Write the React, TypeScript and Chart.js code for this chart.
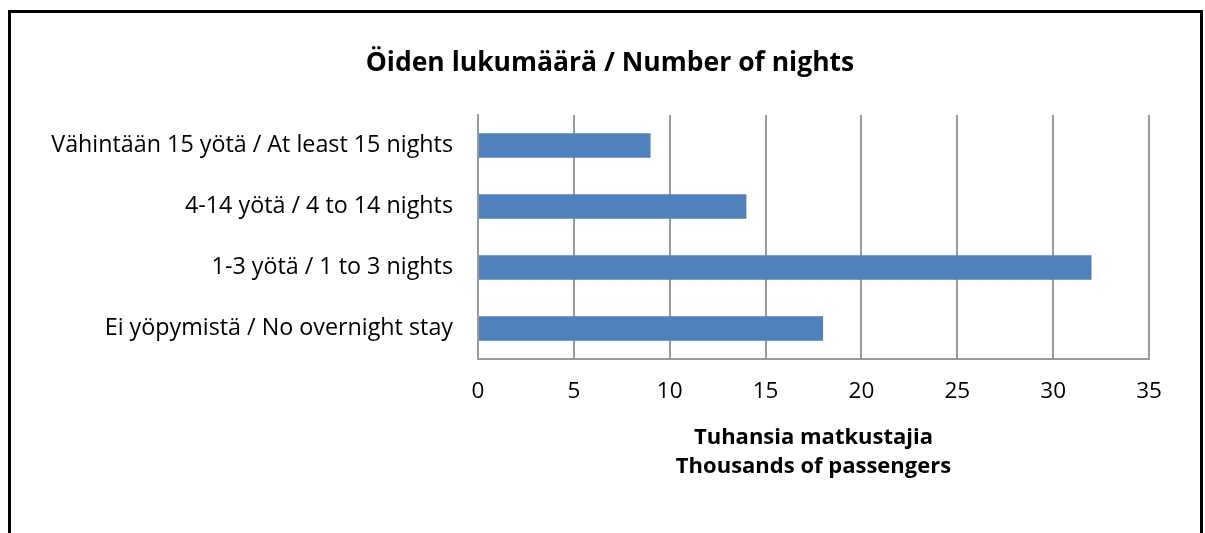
import React, { useEffect, useRef } from "react";
import { Chart, registerables } from "chart.js";

Chart.register(...registerables);

const titleText = "Öiden lukumäärä / Number of nights";
const categories = [
  "Vähintään 15 yötä / At least 15 nights",
  "4-14 yötä / 4 to 14 nights",
  "1-3 yötä / 1 to 3 nights",
  "Ei yöpymistä / No overnight stay",
];
const passengers = [9, 14, 32, 18];
const axisTitle = ["Tuhansia matkustajia", "Thousands of passengers"];
const xMin = 0;
const xMax = 35;
const xStep = 5;

const FONT = "'Open Sans', 'Noto Sans', sans-serif";

export default function App() {
  const ref = useRef<HTMLCanvasElement | null>(null);

  useEffect(() => {
    if (!ref.current) return;
    const titlePlugin = {
      id: "customTitle",
      afterDraw(chart: any) {
        const ctx = chart.ctx;
        ctx.save();
        ctx.font = `bold 26.5px ${FONT}`;
        ctx.fillStyle = "#000";
        ctx.textAlign = "center";
        ctx.textBaseline = "middle";
        ctx.fillText(titleText, 610, 63);
        ctx.restore();
      },
    };
    const chart = new Chart(ref.current, {
      type: "bar",
      data: {
        labels: categories,
        datasets: [
          {
            data: passengers,
            backgroundColor: "#4f81bd",
            borderWidth: 0,
            barPercentage: 0.4,
            categoryPercentage: 1,
          },
        ],
      },
      options: {
        indexAxis: "y",
        animation: false,
        responsive: false,
        layout: { padding: { top: 115, right: 56, bottom: 0, left: 0 } },
        plugins: {
          legend: { display: false },
          tooltip: { enabled: false },
          title: { display: false },
        },
        scales: {
          x: {
            min: xMin,
            max: xMax,
            afterFit: (s: any) => {
              s.height = 174;
            },
            ticks: {
              stepSize: xStep,
              color: "#000",
              padding: 19,
              font: { family: FONT, size: 22.5 },
            },
            grid: {
              color: "#9a9a9a",
              lineWidth: 2,
              drawTicks: false,
            },
            border: { color: "#9a9a9a", width: 2 },
            title: {
              display: true,
              text: axisTitle,
              color: "#000",
              font: { family: FONT, size: 22, weight: "bold", lineHeight: 1.32 },
              padding: { top: 0, bottom: 52 },
            },
          },
          y: {
            afterFit: (s: any) => {
              s.width = 478;
            },
            ticks: {
              color: "#000",
              padding: 25,
              font: { family: FONT, size: 23.3 },
            },
            grid: { display: false, drawTicks: false },
            border: { color: "#9a9a9a", width: 2 },
          },
        },
      },
      plugins: [titlePlugin],
    });
    return () => chart.destroy();
  }, []);

  return (
    <div style={{ position: "absolute", left: 0, top: 0, width: 1205, height: 533, overflow: "hidden", background: "#fff" }}>
      <canvas ref={ref} width={1205} height={533} style={{ position: "absolute", left: 0, top: 0 }} />
      <div
        style={{
          position: "absolute",
          left: 8,
          top: 10,
          width: 1195,
          height: 530,
          boxSizing: "border-box",
          border: "3px solid #000",
          borderBottom: "none",
          pointerEvents: "none",
        }}
      />
    </div>
  );
}
